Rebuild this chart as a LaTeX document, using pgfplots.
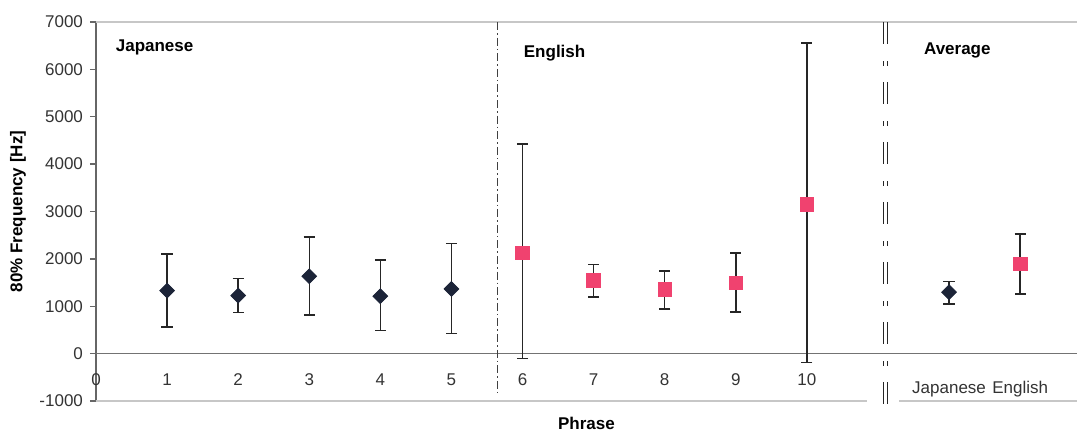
\documentclass[border=0pt]{standalone}
\usepackage{pgfplots}
\pgfplotsset{compat=1.18}
\usepackage{fontspec}
\setmainfont{Liberation Sans}
\definecolor{navy}{HTML}{1C2438}
\definecolor{pinkm}{HTML}{F0426F}
\begin{document}
\begin{tikzpicture}[x=1pt,y=1pt]
\begin{axis}[
 scale only axis, width=490.5pt, height=189.5pt,
 xmin=0, xmax=13.8, ymin=-1000, ymax=7000,
 axis y line*=left, axis x line*=bottom,
 x axis line style={draw=none},
 y axis line style={draw=black!60, line width=0.7pt},
 ytick={-1000,0,1000,2000,3000,4000,5000,6000,7000},
 yticklabels={-1000,0,1000,2000,3000,4000,5000,6000,7000},
 ytick style={draw=black!60, line width=0.7pt},
 tick align=outside, major tick length=3pt,
 xtick={0,1,2,3,4,5,6,7,8,9,10},
 xticklabels={0,1,2,3,4,5,6,7,8,9,10},
 xtick style={draw=none},
 extra x ticks={12,13},
 extra x tick labels={Japanese,English},
 extra x tick style={xtick style={draw=none}, xticklabel style={yshift=-4pt}},
 xticklabel style={anchor=base, yshift=10.5pt},
 tick label style={font=\fontsize{8.5}{10}\selectfont, text=black!80},
 ylabel={80\% Frequency [Hz]},
 ylabel style={font=\bfseries\fontsize{8.5}{10}\selectfont, at={(axis description cs:-0.0796,0.5)}, anchor=center},
 xlabel={Phrase},
 xlabel style={font=\bfseries\fontsize{8.5}{10}\selectfont, at={(axis description cs:0.5,0)}, anchor=center, yshift=-11pt},
 clip=false,
]
\coordinate (ll) at (rel axis cs:0,0);
\coordinate (ur) at (rel axis cs:1,1);
% frame lines
\draw[black!22, line width=0.6pt] (rel axis cs:0,1) -- (rel axis cs:1,1);
\draw[black!22, line width=0.6pt] (rel axis cs:0,0) -- (axis cs:10.85,-1000);
\draw[black!22, line width=0.6pt] (axis cs:11.3,-1000) -- (rel axis cs:1,0);
\draw[black!55, line width=0.6pt] (axis cs:0,0) -- (axis cs:13.8,0);
% separators
\draw[black!75, line width=0.6pt, dash pattern=on 4pt off 1.5pt on 0.8pt off 1.5pt] (axis cs:5.65,7000) -- (axis cs:5.65,-900);
\draw[black!85, line width=0.6pt, dash pattern=on 11pt off 8.5pt on 2.5pt off 8pt] (axis cs:11.08,7000) -- (axis cs:11.08,-1100);
\draw[black!85, line width=0.6pt, dash pattern=on 11pt off 8.5pt on 2.5pt off 8pt] (axis cs:11.13,7000) -- (axis cs:11.13,-1100);
% annotations
\node[anchor=west, font=\bfseries\fontsize{8.5}{10}\selectfont] at (axis cs:0.18,6470) {Japanese};
\node[anchor=west, font=\bfseries\fontsize{8.5}{10}\selectfont] at (axis cs:5.92,6350) {English};
\node[anchor=west, font=\bfseries\fontsize{8.5}{10}\selectfont] at (axis cs:11.55,6390) {Average};
% Japanese phrases
\addplot[only marks, mark=square*, mark size=2.6pt, mark options={rotate=45, fill=navy, draw=navy},
 error bars/.cd, y dir=both, y explicit,
 error bar style={black!85, line width=0.75pt},
 error mark options={rotate=90, mark size=2.8pt, black!85, line width=0.75pt}]
 table[x=x, y=y, y error plus=ep, y error minus=em] {
 x y ep em
 1 1330 770 763
 2 1225 365 357
 3 1632 833 813
 4 1212 769 729
 5 1365 960 945
 12 1296 223 246
 };
% English phrases
\addplot[only marks, mark=square*, mark size=3.4pt, mark options={fill=pinkm, draw=pinkm},
 error bars/.cd, y dir=both, y explicit,
 error bar style={black!85, line width=0.75pt},
 error mark options={rotate=90, mark size=2.8pt, black!85, line width=0.75pt}]
 table[x=x, y=y, y error plus=ep, y error minus=em] {
 x y ep em
 6 2128 2298 2227
 7 1540 336 350
 8 1358 385 420
 9 1491 630 616
 10 3151 3410 3341
 13 1890 637 630
 };
\end{axis}
\pgfresetboundingbox
\path[use as bounding box] ([xshift=-48pt,yshift=-17pt]ll) rectangle ([xshift=1pt,yshift=11pt]ur);
\end{tikzpicture}
\end{document}
